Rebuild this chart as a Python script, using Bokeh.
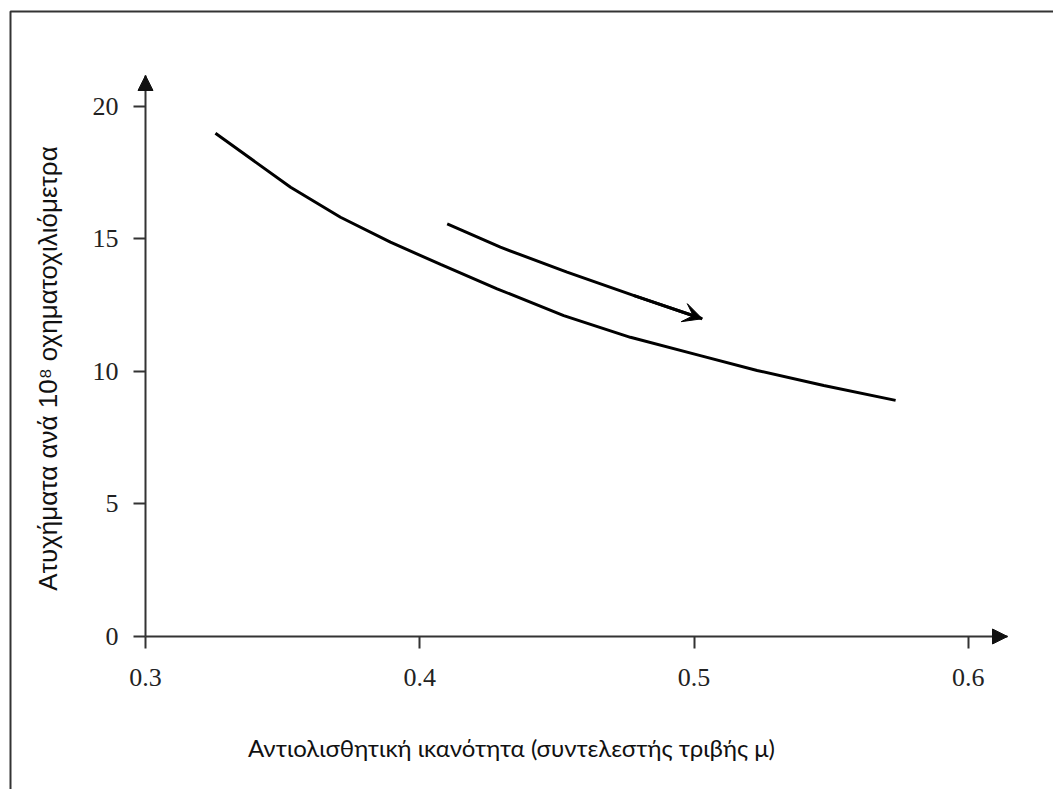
import math
from bokeh.plotting import figure
from bokeh.models import Range1d, FixedTicker, Arrow, NormalHead, VeeHead, Label
from bokeh.embed import file_html
from bokeh.resources import INLINE

# ---- data ----
friction = [0.3255, 0.3529, 0.3711, 0.3893, 0.4076, 0.4282, 0.4525, 0.4768, 0.5023, 0.5230, 0.5473, 0.5735]
accidents = [18.99, 16.95, 15.82, 14.88, 14.04, 13.12, 12.11, 11.29, 10.60, 10.04, 9.47, 8.91]
trend_x = [0.4100, 0.4294, 0.4537, 0.4779, 0.5030]
trend_y = [15.57, 14.69, 13.75, 12.87, 11.99]
x_ticks = [0.3, 0.4, 0.5, 0.6]
y_ticks = [0, 5, 10, 15, 20]
x_label = "Αντιολισθητική ικανότητα (συντελεστής τριβής μ)"
y_label = "Ατυχήματα ανά 10⁸ οχηματοχιλιόμετρα"

# axis extents (where the arrows end) and the visible window around them
X_AXIS = (0.3, 0.6143)
Y_AXIS = (0.0, 21.17)
XR = (0.24713, 0.63107)
YR = (-5.7736, 24.0)
W, H = 1053, 789

p = figure(width=W, height=H,
           x_range=Range1d(*XR), y_range=Range1d(*YR),
           output_backend="svg", toolbar_location=None,
           min_border=0, min_border_left=0, min_border_right=0, min_border_top=0, min_border_bottom=0)
p.outline_line_color = None
p.grid.visible = False
p.background_fill_color = "white"
p.border_fill_color = "white"

AX = "#333333"
p.xaxis.fixed_location = Y_AXIS[0]
p.yaxis.fixed_location = X_AXIS[0]
p.xaxis.bounds = X_AXIS
p.yaxis.bounds = Y_AXIS
for ax in (p.xaxis[0], p.yaxis[0]):
    ax.axis_line_color = AX
    ax.axis_line_width = 2
    ax.major_tick_line_color = AX
    ax.major_tick_line_width = 2
    ax.major_tick_in = 0
    ax.major_tick_out = 12
    ax.minor_tick_line_color = None
    ax.major_label_text_font = "Liberation Serif"
    ax.major_label_text_font_size = "26px"
    ax.major_label_text_color = "#222222"
p.xaxis.ticker = FixedTicker(ticks=x_ticks)
p.yaxis.ticker = FixedTicker(ticks=y_ticks)
p.xaxis.major_label_standoff = 21
p.yaxis.major_label_standoff = 15

# axis arrowheads
p.add_layout(Arrow(end=NormalHead(size=15, fill_color="#111111", line_color="#111111"),
                   x_start=X_AXIS[0], y_start=Y_AXIS[0], x_end=X_AXIS[1], y_end=Y_AXIS[0], line_alpha=0))
p.add_layout(Arrow(end=NormalHead(size=15, fill_color="#111111", line_color="#111111"),
                   x_start=X_AXIS[0], y_start=Y_AXIS[0], x_end=X_AXIS[0], y_end=Y_AXIS[1], line_alpha=0))

# main curve
p.line(friction, accidents, line_color="black", line_width=3)

# trend arrow
p.line(trend_x, trend_y, line_color="black", line_width=3)
p.add_layout(Arrow(end=VeeHead(size=19, fill_color="black", line_color="black"),
                   x_start=trend_x[-2], y_start=trend_y[-2], x_end=trend_x[-1], y_end=trend_y[-1],
                   line_color="black", line_width=3))

# labels (screen units: from the bottom-left of the canvas)
p.add_layout(Label(x=47, y=H - 368, x_units="screen", y_units="screen", text=y_label, angle=math.pi / 2,
                   text_align="center", text_baseline="middle", text_font="Liberation Sans",
                   text_font_size="26px", text_color="#111111"))
p.add_layout(Label(x=511, y=H - 747, x_units="screen", y_units="screen", text=x_label,
                   text_align="center", text_baseline="middle", text_font="Lato",
                   text_font_size="24px", text_color="#111111"))


# page frame: only its top and left edges fall inside the picture (pixel -> data mapping)
def px_x(px):
    return XR[0] + px * (XR[1] - XR[0]) / W


def px_y(py):
    return YR[1] - py * (YR[1] - YR[0]) / H


p.line([px_x(10), px_x(10), px_x(W + 20)], [px_y(H + 20), px_y(11), px_y(11)],
       line_color="#333333", line_width=2)

open("out.html", "w").write(file_html(p, INLINE))
